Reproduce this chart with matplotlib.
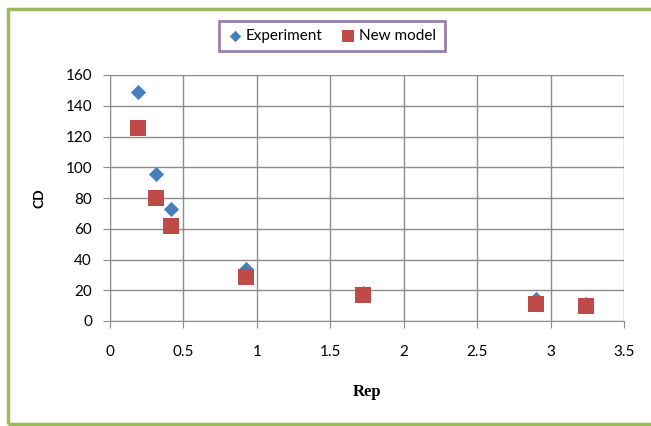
import matplotlib.pyplot as plt
from matplotlib.patches import Rectangle

# values
rep_exp = [0.19, 0.31, 0.415, 0.925, 1.72, 2.9, 3.24]
cd_exp = [149, 95.6, 73, 34, 18, 14, 11]
rep_model = [0.19, 0.31, 0.415, 0.925, 1.72, 2.9, 3.24]
cd_model = [125.7, 79.8, 61.8, 28.8, 17, 11, 10]

fig = plt.figure(figsize=(6.51, 4.26), dpi=100)
ax = fig.add_axes([110 / 651, 1 - 321 / 426, 514 / 651, 246 / 426])

ax.scatter(rep_exp, cd_exp, marker='D', s=60, color='#4A7EBB', label='Experiment', zorder=3, linewidths=0)
ax.scatter(rep_model, cd_model, marker='s', s=120, color='#BE4B48', label='New model', zorder=4, linewidths=0)

ax.set_xlim(0, 3.5)
ax.set_ylim(0, 160)
ax.set_xticks([0, 0.5, 1, 1.5, 2, 2.5, 3, 3.5])
ax.set_xticklabels(['0', '0.5', '1', '1.5', '2', '2.5', '3', '3.5'])
ax.set_yticks(range(0, 161, 20))
ax.grid(True, color='#8C8C8C', linewidth=1.0)
ax.set_axisbelow(True)
for s in ['top', 'right']:
    ax.spines[s].set_visible(False)
for s in ['left', 'bottom']:
    ax.spines[s].set_color('#8C8C8C')
ax.tick_params(colors='#8C8C8C', labelcolor='black', labelsize=11, length=5)
ax.tick_params(axis='x', pad=12)
ax.tick_params(axis='y', pad=8)
for lbl in ax.get_xticklabels() + ax.get_yticklabels():
    lbl.set_family('Lato')

ax.set_xlabel('Rep', fontfamily='Liberation Serif', fontweight='bold', fontsize=12, labelpad=18)
ax.set_ylabel('CD', fontfamily='Lato', fontweight='bold', fontsize=10, labelpad=14)

leg = fig.legend(loc='center', bbox_to_anchor=(332 / 651, 1 - 36 / 426), ncol=2, frameon=True,
                 fancybox=False, edgecolor='#7F5FA0', prop={'family': 'Lato', 'size': 11},
                 handlelength=0.9, handletextpad=0.3, columnspacing=1.2, borderpad=0.55,
                 borderaxespad=0, markerscale=0.75)
leg.get_frame().set_linewidth(2)
leg._legend_box.sep = 0

fig.patches.append(Rectangle((7.5 / 651, 2.5 / 426), 1.0, 1 - 11 / 426, transform=fig.transFigure,
                             fill=False, edgecolor='#9BBB59', linewidth=2.5))

fig.savefig('out.png', dpi=100)
